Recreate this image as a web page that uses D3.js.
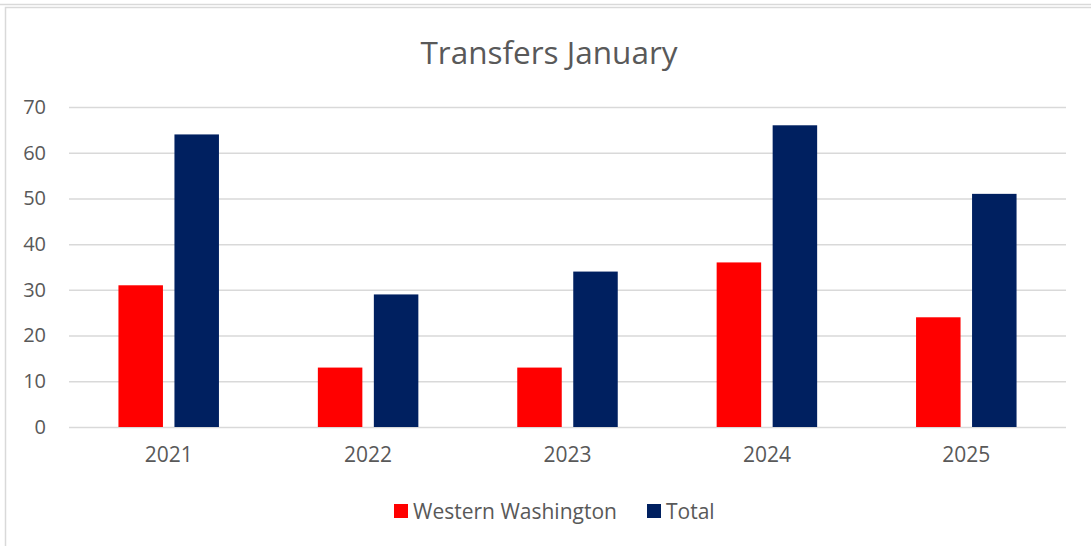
<!DOCTYPE html>
<html>
<head>
<meta charset="utf-8">
<script src="https://cdn.jsdelivr.net/npm/d3@7"></script>
<style>
  body { margin: 0; background: #fff; }
  text { font-family: "Open Sans", sans-serif; fill: #595959; }
</style>
</head>
<body>
<div id="chart"></div>
<script>
var years = ["2021", "2022", "2023", "2024", "2025"];
var seriesNames = ["Western Washington", "Total"];
var westernWashington = [31, 13, 13, 36, 24];
var total = [64, 29, 34, 66, 51];
var yTicks = [0, 10, 20, 30, 40, 50, 60, 70];
var colors = ["#ff0000", "#002060"];

var W = 1091, H = 546;
var margin = {top: 107, right: 25, bottom: 119, left: 69},
    width = W - margin.left - margin.right,
    height = H - margin.top - margin.bottom;

var svg = d3.select("#chart")
  .append("svg")
    .attr("width", W)
    .attr("height", H);

// chart border
svg.append("line").attr("x1", 0).attr("x2", W).attr("y1", 4.5).attr("y2", 4.5)
  .attr("stroke", "#d9d9d9").attr("stroke-width", 1.5);
svg.append("rect")
  .attr("x", 5.5).attr("y", 7.5)
  .attr("width", W + 10).attr("height", H + 10)
  .attr("fill", "none").attr("stroke", "#d9d9d9").attr("stroke-width", 1.5);

svg.append("text")
  .attr("x", 549)
  .attr("y", 64)
  .attr("text-anchor", "middle")
  .style("font-size", "31.5px")
  .text("Transfers January");

var g = svg.append("g")
  .attr("transform", "translate(" + margin.left + "," + margin.top + ")");

var x = d3.scaleBand()
  .domain(years)
  .range([0, width]);

var y = d3.scaleLinear()
  .domain([0, 70])
  .range([height, 0]);

var barW = 44.5, gap = 11.5;
var x1 = d3.scaleOrdinal()
  .domain(seriesNames)
  .range([x.bandwidth() / 2 - gap / 2 - barW, x.bandwidth() / 2 + gap / 2]);

// gridlines
g.append("g")
  .call(d3.axisLeft(y).tickValues(yTicks).tickSize(-width).tickFormat(""))
  .call(function(a) {
    a.select(".domain").remove();
    a.selectAll("line").attr("stroke", "#d9d9d9").attr("stroke-width", 1.5);
  });

// y labels
g.append("g")
  .call(d3.axisLeft(y).tickValues(yTicks).tickSize(0).tickPadding(23))
  .call(function(a) {
    a.select(".domain").remove();
    a.selectAll("text").attr("fill", "#595959")
      .style("font-size", "20px").style("font-family", "Open Sans, sans-serif");
  });

var rows = years.map(function(yr, i) {
  return {year: yr, values: [westernWashington[i], total[i]]};
});

g.selectAll(".grp")
  .data(rows)
  .enter().append("g")
    .attr("transform", function(d) { return "translate(" + x(d.year) + ",0)"; })
  .selectAll("rect")
  .data(function(d) { return d.values.map(function(v, j) { return {name: seriesNames[j], v: v, j: j}; }); })
  .enter().append("rect")
    .attr("x", function(d) { return x1(d.name); })
    .attr("width", barW)
    .attr("y", function(d) { return y(d.v); })
    .attr("height", function(d) { return height - y(d.v); })
    .attr("fill", function(d) { return colors[d.j]; });

// x labels
g.append("g")
  .attr("transform", "translate(0," + height + ")")
  .call(d3.axisBottom(x).tickSize(0).tickPadding(20))
  .call(function(a) {
    a.select(".domain").remove();
    a.selectAll("text").attr("fill", "#595959")
      .style("font-size", "21px").style("font-family", "Open Sans, sans-serif");
  });

// legend
var legX = [394, 647];
var leg = svg.selectAll(".leg")
  .data(seriesNames)
  .enter().append("g")
    .attr("transform", function(d, i) { return "translate(" + legX[i] + ",504)"; });
leg.append("rect").attr("width", 14).attr("height", 14)
  .attr("fill", function(d, i) { return colors[i]; });
leg.append("text").attr("x", 19).attr("y", 14.5)
  .style("font-size", "21px")
  .text(function(d) { return d; });
</script>
</body>
</html>
